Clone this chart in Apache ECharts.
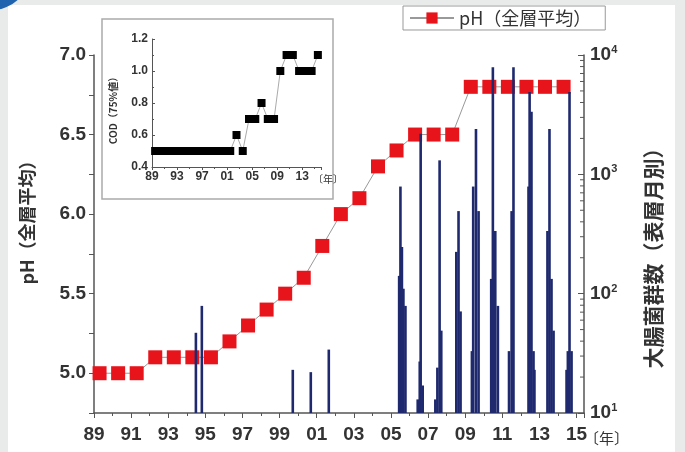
<!DOCTYPE html>
<html><head><meta charset="utf-8">
<script src="https://cdn.jsdelivr.net/npm/echarts@6/dist/echarts.min.js"></script>
<style>html,body{margin:0;padding:0;background:#e9ebeb}#c{width:685px;height:452px}</style>
</head><body><div id="c"></div>
<script>
// ---- data ----
const years = [1989,1990,1991,1992,1993,1994,1995,1996,1997,1998,1999,2000,2001,2002,2003,2004,2005,2006,2007,2008,2009,2010,2011,2012,2013,2014];
const phValues = [5.0,5.0,5.0,5.1,5.1,5.1,5.1,5.2,5.3,5.4,5.5,5.6,5.8,6.0,6.1,6.3,6.4,6.5,6.5,6.5,6.8,6.8,6.8,6.8,6.8,6.8];
const codYears = [1989,1990,1991,1992,1993,1994,1995,1996,1997,1998,1999,2000,2001,2002,2003,2004,2005,2006,2007,2008,2009,2010,2011,2012,2013,2014,2015];
const codValues = [0.5,0.5,0.5,0.5,0.5,0.5,0.5,0.5,0.5,0.5,0.5,0.5,0.5,0.6,0.5,0.7,0.7,0.8,0.7,0.7,1.0,1.1,1.1,1.0,1.0,1.0,1.1];
const coliformTime = [1994.49,1994.81,1999.71,2000.68,2001.65,
  2005.44,2005.51,2005.59,2005.67,2005.78,
  2006.44,2006.55,2006.60,2006.71,
  2007.39,2007.50,2007.62,2007.71,
  2008.52,2008.64,2008.75,
  2009.36,2009.43,2009.58,2009.72,
  2010.40,2010.49,2010.62,2010.76,
  2011.36,2011.50,2011.60,
  2012.41,2012.47,2012.57,2012.68,2012.73,
  2013.43,2013.54,2013.65,2013.76,
  2014.46,2014.53,2014.62,2014.73];
const coliformValues = [47,79,23,22,34,
  141,790,246,110,79,
  13,27,2190,17,
  13,24,1310,49,
  224,492,71,
  33,790,2400,492,
  133,7900,335,79,
  33,492,7900,
  790,4900,3350,33,23,
  335,2400,133,49,
  23,33,4900,33];
const logMinorTicks = [20,30,40,50,60,70,80,90,200,300,400,500,600,700,800,900,2000,3000,4000,5000,6000,7000,8000,9000];
const mainXMin = 1989, mainXMax = 2015.4;

const FONT = '"Liberation Sans", Arial, sans-serif';
const CJK = '"Noto Sans CJK JP", sans-serif';
const txt = '#333';

const chart = echarts.init(document.getElementById('c'), null, {renderer:'canvas'});
const phData = years.map((y,i)=>[y+0.3, phValues[i]]);
const codData = codYears.map((y,i)=>[y+0.5, codValues[i]]);
const barData = coliformTime.map((t,i)=>[t, coliformValues[i]]);

chart.setOption({
  backgroundColor: '#e9ebeb',
  animation: false,
  graphic: [
    {type:'rect', z:-20, shape:{x:8,y:5,width:667,height:447}, style:{fill:'#fff'}},
    {type:'circle', z:-19, shape:{cx:-8,cy:-28,r:38}, style:{fill:'#1f62ad'}},
    {type:'rect', z:-10, shape:{x:102,y:19,width:231,height:180}, style:{fill:'#fff', stroke:'#aaa', lineWidth:1.5}},
    {type:'text', x:27, y:218, rotation:Math.PI/2, style:{text:'pH（全層平均）', font:'bold 18px '+CJK, fill:txt, align:'center', verticalAlign:'middle'}},
    {type:'text', x:653, y:253, rotation:Math.PI/2, style:{text:'大腸菌群数（表層月別）', font:'bold 21px '+CJK, fill:txt, align:'center', verticalAlign:'middle'}},
    {type:'text', x:584, y:438, style:{text:'〔年〕', font:'15px '+CJK, fill:txt, align:'left', verticalAlign:'middle'}},
    {type:'text', x:113, y:108, rotation:Math.PI/2, style:{text:'COD（75%値）', font:'bold 10px '+CJK, fill:txt, align:'center', verticalAlign:'middle'}},
    {type:'text', x:313, y:179, style:{text:'〔年〕', font:'10px '+CJK, fill:txt, align:'left', verticalAlign:'middle'}}
  ],
  legend: {
    left: 403, top: 6, padding: [3,14,3,6],
    borderColor: '#999', borderWidth: 1, backgroundColor:'#fff',
    itemWidth: 44, itemHeight: 14, itemGap: 8,
    textStyle: {fontSize: 18, fontFamily: CJK, color: txt},
    data: [{name:'pH（全層平均）'}]
  },
  grid: [
    {left:94, right:101, top:55, bottom:39},
    {left:152, right:364, top:39, bottom:285}
  ],
  xAxis: [
    {type:'value', gridIndex:0, min:mainXMin, max:mainXMax, interval:2,
     axisLine:{lineStyle:{color:'#555', width:1.5}},
     axisTick:{show:true, length:5, lineStyle:{color:'#555'}},
     minorTick:{show:true, splitNumber:2, length:3, lineStyle:{color:'#555'}},
     splitLine:{show:false},
     axisLabel:{formatter:v=>(Math.abs((v-1989)/2-Math.round((v-1989)/2))<1e-6 ? String(Math.round(v)).slice(2) : ''), fontSize:19, fontFamily:FONT, fontWeight:'bold', color:txt, margin:12}},
    {type:'value', gridIndex:1, min:1989, max:2016, interval:4,
     axisLine:{lineStyle:{color:'#555'}},
     axisTick:{show:true, length:3, lineStyle:{color:'#555'}},
     minorTick:{show:true, splitNumber:2, length:2},
     splitLine:{show:false},
     axisLabel:{formatter:v=>((v-1989)%4===0 ? String(v).slice(2) : ''), fontSize:12, fontFamily:FONT, fontWeight:'bold', color:txt, margin:4}}
  ],
  yAxis: [
    {type:'value', gridIndex:0, min:4.75, max:7.0, interval:0.25,
     axisLine:{show:true, lineStyle:{color:'#555', width:1.5}},
     axisTick:{show:true, length:5, lineStyle:{color:'#555'}},
     splitLine:{show:false},
     axisLabel:{formatter:v=>(Math.abs(v*2-Math.round(v*2))<1e-6 ? v.toFixed(1) : ''), fontSize:19, fontFamily:FONT, fontWeight:'bold', color:txt, margin:8}},
    {type:'log', gridIndex:0, logBase:10, min:10, max:10000, position:'right', startValue:10,
     axisLine:{show:true, lineStyle:{color:'#555', width:1.5}},
     axisTick:{show:true, inside:true, length:6, lineStyle:{color:'#555'}},
     splitLine:{show:false},
     axisLabel:{formatter:v=>'10{s|'+Math.round(Math.log10(v))+'}', fontSize:19, fontFamily:FONT, fontWeight:'bold', color:txt, margin:6,
       rich:{s:{fontSize:11, fontFamily:FONT, fontWeight:'bold', color:txt, verticalAlign:'top', padding:[0,0,10,0]}}}},
    {type:'value', gridIndex:1, min:0.4, max:1.2, interval:0.2,
     axisLine:{show:true, lineStyle:{color:'#555'}},
     axisTick:{show:true, inside:true, length:3, lineStyle:{color:'#555'}},
     minorTick:{show:true, splitNumber:2, length:2},
     splitLine:{show:false},
     axisLabel:{formatter:v=>v.toFixed(1), fontSize:12, fontFamily:FONT, fontWeight:'bold', color:txt, margin:4}}
  ],
  series: [
    {type:'line', name:'pH（全層平均）', xAxisIndex:0, yAxisIndex:0, data:phData, z:2,
     symbol:'rect', symbolSize:14, itemStyle:{color:'#e8141b'},
     lineStyle:{color:'#999', width:1}},
    {type:'bar', name:'coliform', xAxisIndex:0, yAxisIndex:1, data:barData, z:3,
     barWidth:2.6, itemStyle:{color:'#1f2a6e'}},
    {type:'custom', name:'logticks', xAxisIndex:0, yAxisIndex:1, z:4, silent:true, clip:false,
     data: logMinorTicks.map(v=>[mainXMax, v]),
     renderItem:(params, api)=>{
       const p = api.coord([api.value(0), api.value(1)]);
       return {type:'line', shape:{x1:p[0]-4, y1:p[1], x2:p[0], y2:p[1]}, style:{stroke:'#555', lineWidth:1}};
     }},
    {type:'line', name:'COD', xAxisIndex:1, yAxisIndex:2, data:codData, z:5,
     symbol:'rect', symbolSize:8, itemStyle:{color:'#000'},
     lineStyle:{color:'#aaa', width:1}}
  ]
});
</script>
</body></html>
